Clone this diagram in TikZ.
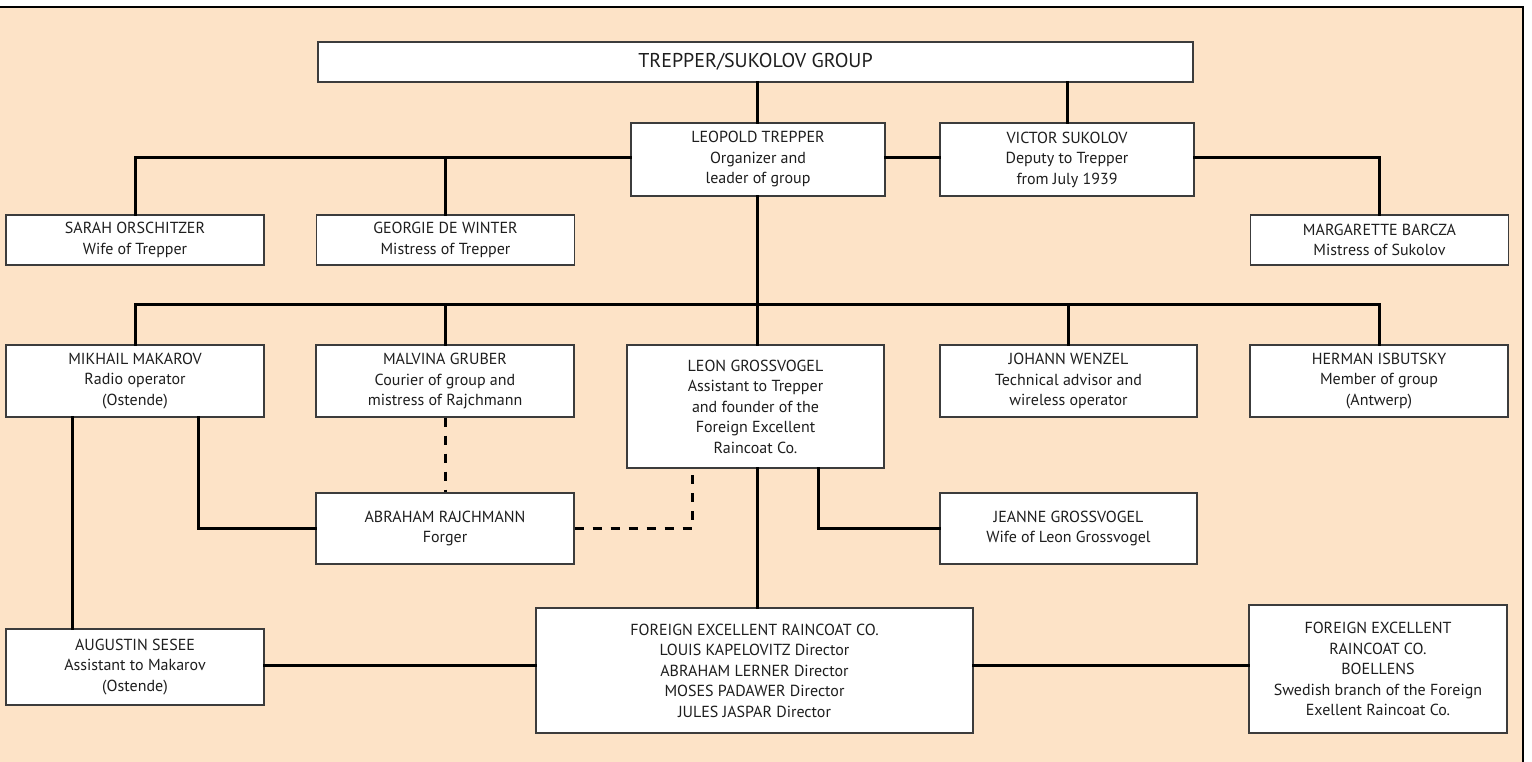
\documentclass[tikz,border=0pt]{standalone}
\usepackage{fontspec}
\setmainfont{PT Sans}
\definecolor{peach}{RGB}{253,227,199}
\definecolor{boxline}{RGB}{60,60,60}
\definecolor{txt}{RGB}{30,30,30}
\begin{document}
\begin{tikzpicture}[x=1pt,y=-1pt,
  box/.style={draw=boxline,line width=1.1pt,fill=white,inner sep=0pt,align=center,
    text=txt,font=\fontsize{16}{20.5}\selectfont},
  conn/.style={line width=3pt,line cap=rect,line join=miter},
  dconn/.style={line width=3pt,dash pattern=on 9pt off 9pt}]
\useasboundingbox (0,0) rectangle (1532,762);
\fill[peach] (0,7) rectangle (1523,762);
\draw[line width=1.5pt] (0,7) -- (1523,7) -- (1523,762);
% boxes: centre at ((x1+x2)/2,(y1+y2)/2)
\node[box,minimum width=875pt,minimum height=40pt,font=\fontsize{20}{24}\selectfont] (title) at (755.5,62) {TREPPER/SUKOLOV GROUP};
\node[box,minimum width=254pt,minimum height=73pt] (trep) at (758,159.5) {LEOPOLD TREPPER\\Organizer and\\leader of group};
\node[box,minimum width=254pt,minimum height=73pt] (suk) at (1067,159.5) {VICTOR SUKOLOV\\Deputy to Trepper\\from July 1939};
\node[box,minimum width=258pt,minimum height=50pt] (sarah) at (135,240) {SARAH ORSCHITZER\\Wife of Trepper};
\node[box,minimum width=258pt,minimum height=50pt] (georgie) at (445.5,240) {GEORGIE DE WINTER\\Mistress of Trepper};
\node[box,minimum width=258pt,minimum height=50pt] (marg) at (1379.5,240) {MARGARETTE BARCZA\\Mistress of Sukolov};
\node[box,minimum width=258pt,minimum height=72pt] (makarov) at (135,381) {MIKHAIL MAKAROV\\Radio operator\\(Ostende)};
\node[box,minimum width=258pt,minimum height=72pt] (gruber) at (445,381) {MALVINA GRUBER\\Courier of group and\\mistress of Rajchmann};
\node[box,minimum width=257pt,minimum height=123pt] (leon) at (755.5,406.5) {LEON GROSSVOGEL\\Assistant to Trepper\\and founder of the\\Foreign Excellent\\Raincoat Co.};
\node[box,minimum width=257pt,minimum height=72pt] (wenzel) at (1068.5,381) {JOHANN WENZEL\\Technical advisor and\\wireless operator};
\node[box,minimum width=258pt,minimum height=72pt] (isb) at (1379,381) {HERMAN ISBUTSKY\\Member of group\\(Antwerp)};
\node[box,minimum width=258pt,minimum height=71pt] (rajch) at (445,528.5) {ABRAHAM RAJCHMANN\\Forger};
\node[box,minimum width=257pt,minimum height=71pt] (jeanne) at (1068.5,528.5) {JEANNE GROSSVOGEL\\Wife of Leon Grossvogel};
\node[box,minimum width=258pt,minimum height=76pt] (sesee) at (135,667) {AUGUSTIN SESEE\\Assistant to Makarov\\(Ostende)};
\node[box,minimum width=437pt,minimum height=125pt] (ferc) at (754.5,670.5) {FOREIGN EXCELLENT RAINCOAT CO.\\LOUIS KAPELOVITZ Director\\ABRAHAM LERNER Director\\MOSES PADAWER Director\\JULES JASPAR Director};
\node[box,minimum width=258pt,minimum height=128pt] (boel) at (1378,669) {FOREIGN EXCELLENT\\RAINCOAT CO.\\BOELLENS\\Swedish branch of the Foreign\\Exellent Raincoat Co.};
% helper coordinates
\coordinate (bus) at (757,304);
\coordinate (topL) at (757,158);
\coordinate (mkA) at (72,0);
\coordinate (mkB) at (198,0);
\coordinate (ldash) at (692,0);
\coordinate (lj) at (818,0);
\coordinate (low) at (0,665);
% connectors
\draw[conn] (title.south -| topL) -- (trep.north -| topL);
\draw[conn] (title.south -| suk.north) -- (suk.north);
\draw[conn] (trep.west |- topL) -- (sarah.north |- topL) -- (sarah.north);
\draw[conn] (georgie.north |- topL) -- (georgie.north);
\draw[conn] (trep.east |- topL) -- (suk.west |- topL);
\draw[conn] (suk.east |- topL) -- (marg.north |- topL) -- (marg.north);
\draw[conn] (trep.south -| topL) -- (leon.north -| topL);
\draw[conn] (makarov.north) -- (makarov.north |- bus) -- (isb.north |- bus) -- (isb.north);
\draw[conn] (gruber.north |- bus) -- (gruber.north);
\draw[conn] (wenzel.north |- bus) -- (wenzel.north);
\draw[conn] (makarov.south -| mkA) -- (sesee.north -| mkA);
\draw[conn] (makarov.south -| mkB) -- (rajch.west -| mkB) -- (rajch.west);
\draw[dconn] (gruber.south) -- (rajch.north);
\draw[dconn] (rajch.east) -- (rajch.east -| ldash) -- (leon.south -| ldash);
\draw[conn] (leon.south -| lj) -- (jeanne.west -| lj) -- (jeanne.west);
\draw[conn] (leon.south -| topL) -- (ferc.north -| topL);
\draw[conn] (sesee.east |- low) -- (ferc.west |- low);
\draw[conn] (ferc.east |- low) -- (boel.west |- low);
\end{tikzpicture}
\end{document}
